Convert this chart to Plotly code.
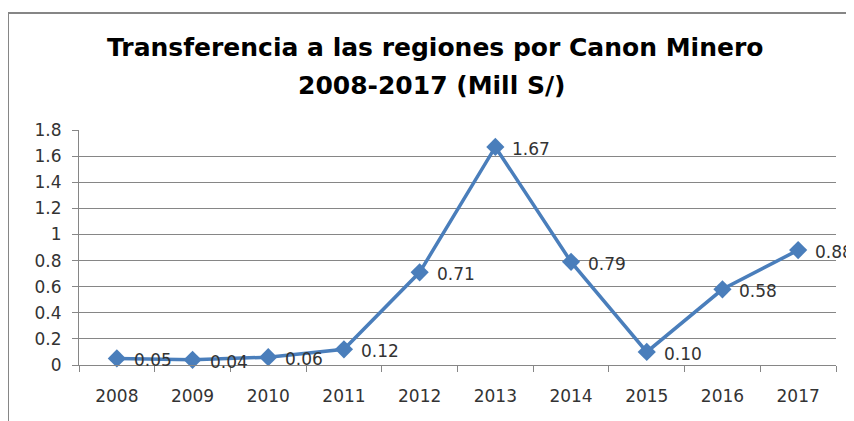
import plotly.graph_objects as go

years = ["2008", "2009", "2010", "2011", "2012", "2013", "2014", "2015", "2016", "2017"]
values = [0.05, 0.04, 0.06, 0.12, 0.71, 1.67, 0.79, 0.10, 0.58, 0.88]
labels = ["0.05", "0.04", "0.06", "0.12", "0.71", "1.67", "0.79", "0.10", "0.58", "0.88"]
y_ticks = [0, 0.2, 0.4, 0.6, 0.8, 1, 1.2, 1.4, 1.6, 1.8]
y_ticktext = ["0", "0.2", "0.4", "0.6", "0.8", "1", "1.2", "1.4", "1.6", "1.8"]
title_lines = ["Transferencia a las regiones por Canon Minero", "2008-2017 (Mill S/)"]

W, H = 854, 421
L, R, T, B = 71, 26, 122, 64
pw, ph = W - L - R, H - T - B


def px(x):
    return (x - L) / pw


def py(y):
    return ((H - B) - y) / ph


GRAY = "#868686"
BLUE = "#4a7ebb"
TXT = "#333333"

fig = go.Figure()
fig.add_trace(go.Scatter(
    x=years, y=values, mode="lines+markers",
    line=dict(color=BLUE, width=3.5),
    marker=dict(symbol="diamond", size=14, color=BLUE),
    cliponaxis=False, showlegend=False,
))

# data labels: category index on the category axis, value on the y axis
annotations = [
    dict(x=i, y=yv, text=t, xref="x", yref="y", showarrow=False,
         xanchor="left", yanchor="middle", xshift=15, yshift=-2,
         font=dict(family="DejaVu Sans", size=17, color=TXT))
    for i, (yv, t) in enumerate(zip(values, labels))
]
annotations += [
    dict(text="<b>" + title_lines[0] + "</b>", xref="paper", yref="paper",
         x=px(427), y=py(40), xanchor="center", yanchor="middle", showarrow=False,
         font=dict(family="DejaVu Sans", size=25, color="black")),
    dict(text="<b>" + title_lines[1] + "</b>", xref="paper", yref="paper",
         x=px(424), y=py(78), xanchor="center", yanchor="middle", showarrow=False,
         font=dict(family="DejaVu Sans", size=25, color="black")),
]

fig.update_layout(
    width=W, height=H,
    margin=dict(l=L, r=R, t=T, b=B, autoexpand=False),
    paper_bgcolor="white", plot_bgcolor="white",
    xaxis=dict(
        type="category", tickson="boundaries",
        categoryorder="array", categoryarray=years,
        range=[-0.5, len(years) - 0.5],
        showgrid=False, showline=True, linecolor=GRAY, linewidth=1,
        ticks="outside", ticklen=6, tickcolor=GRAY,
        tickfont=dict(family="DejaVu Sans", size=17, color=TXT),
        ticklabelstandoff=16, automargin=False,
    ),
    yaxis=dict(
        range=[0, 1.8], tickvals=y_ticks, ticktext=y_ticktext,
        showgrid=True, gridcolor=GRAY, gridwidth=1,
        showline=True, linecolor=GRAY, linewidth=1,
        ticks="outside", ticklen=6, tickcolor=GRAY,
        tickfont=dict(family="DejaVu Sans", size=17, color=TXT),
        ticklabelstandoff=7, zeroline=False, automargin=False,
    ),
    annotations=annotations,
    shapes=[dict(
        type="rect", xref="paper", yref="paper",
        x0=px(0), x1=px(W + 10),
        y0=py(H + 10), y1=py(5),
        line=dict(color=GRAY, width=2), fillcolor="rgba(0,0,0,0)", layer="below",
    )],
)

fig.write_html("out.html")
